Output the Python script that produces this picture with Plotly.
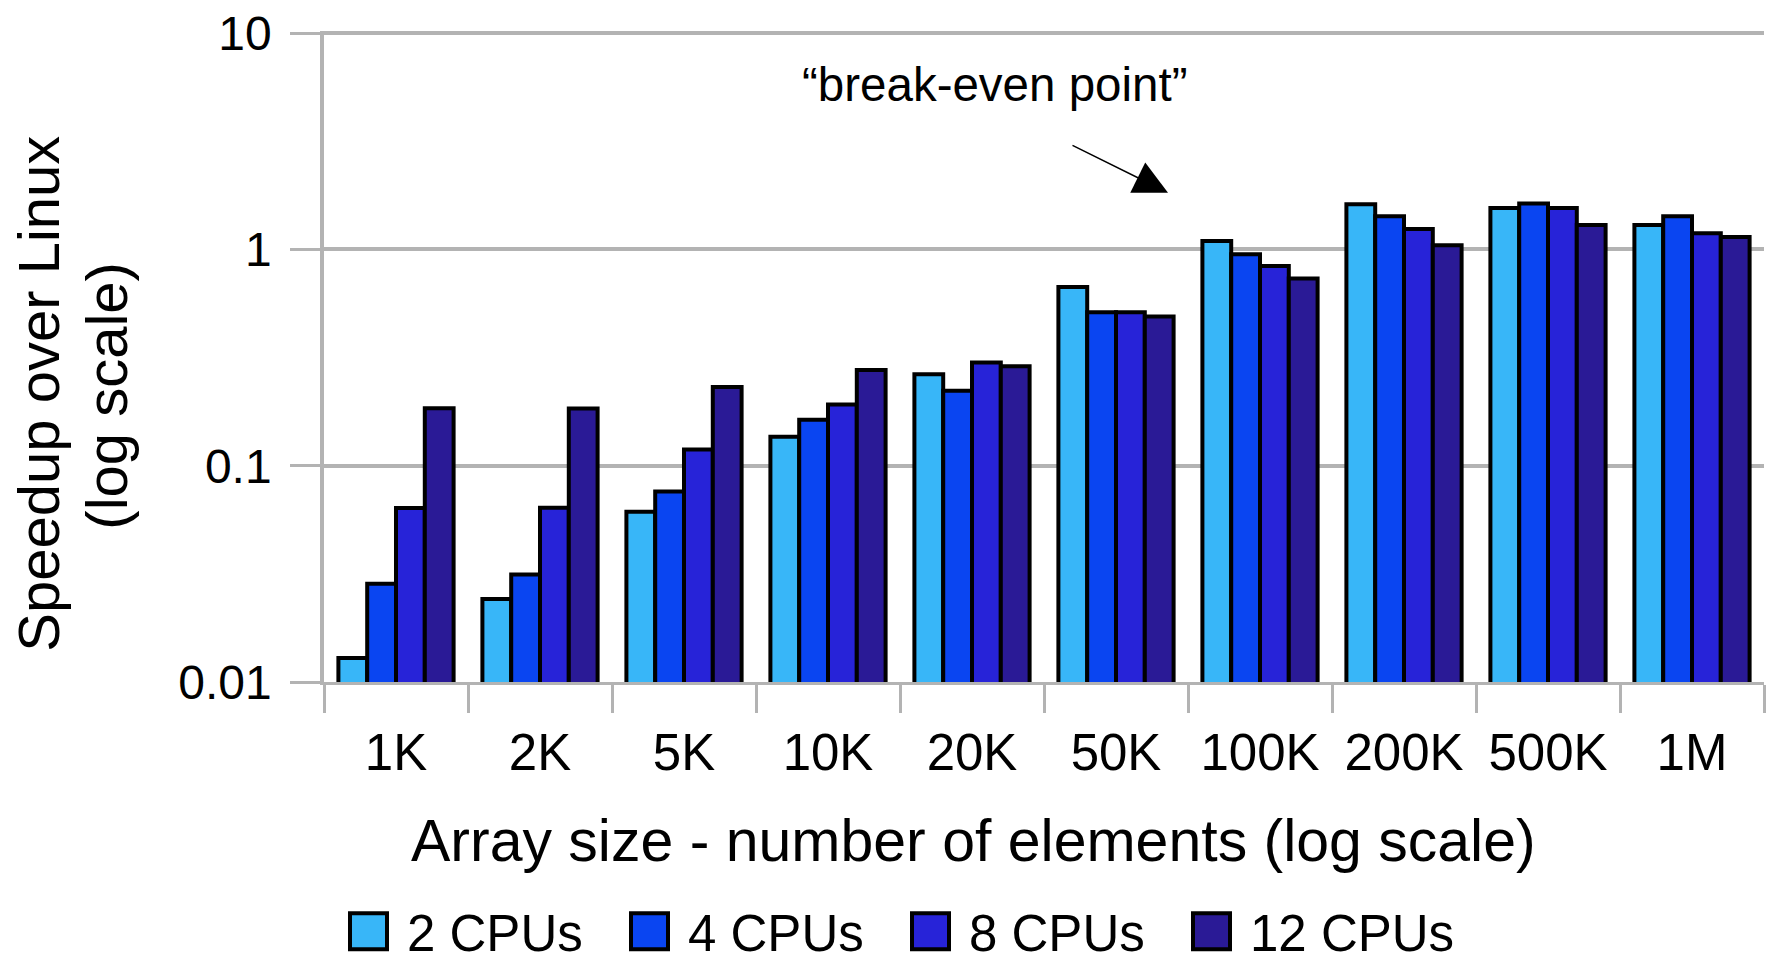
import plotly.graph_objects as go

# ---- data ----
categories = ["1K", "2K", "5K", "10K", "20K", "50K", "100K", "200K", "500K", "1M"]
series_names = ["2 CPUs", "4 CPUs", "8 CPUs", "12 CPUs"]
cpu2 = [0.0129, 0.0242, 0.0612, 0.136, 0.265, 0.670, 1.094, 1.616, 1.556, 1.298]
cpu4 = [0.0285, 0.0314, 0.076, 0.163, 0.222, 0.513, 0.951, 1.425, 1.630, 1.425]
cpu8 = [0.0638, 0.0640, 0.119, 0.192, 0.300, 0.513, 0.838, 1.242, 1.556, 1.187]
cpu12 = [0.1845, 0.1840, 0.231, 0.277, 0.288, 0.490, 0.733, 1.047, 1.298, 1.143]
y_tickvals = [0.01, 0.1, 1, 10]
y_ticktext = ["0.01", "0.1", "1", "10"]
colors = ["#38B6F8", "#0A45F1", "#2723D8", "#2A1A96"]

FONT = "Liberation Sans, Arial, Helvetica, sans-serif"
GRID = "#B3B3B3"

fig = go.Figure()
for name, vals, col in zip(series_names, [cpu2, cpu4, cpu8, cpu12], colors):
    fig.add_trace(go.Bar(
        x=categories, y=vals, name=name,
        marker=dict(color=col, line=dict(color="black", width=4)),
    ))

W, H = 1767, 963
Y_LO, Y_HI = -2, 1.01          # log10 range (tiny headroom so the top gridline is drawn)
L, R = 324, 3
B = H - 682.4                   # 0.01 sits at y = 682.4
T = 33.5 - (Y_HI - 1) * (682.4 - 33.5) / 3
pw = W - L - R
ph = H - T - B

def px(x):
    return (x - L) / pw

def py(y):
    return (H - B - y) / ph

fig.update_layout(
    width=W, height=H,
    margin=dict(l=L, r=R, t=T, b=B, pad=0, autoexpand=False),
    paper_bgcolor="white", plot_bgcolor="white",
    barmode="group", bargap=0.2, bargroupgap=0,
    font=dict(family=FONT, color="black"),
    showlegend=True,
    legend=dict(
        orientation="h", x=px(330), xanchor="left", y=py(932), yanchor="middle",
        font=dict(size=51, family=FONT, color="black"),
        itemwidth=67, entrywidth=199, entrywidthmode="pixels",
        bgcolor="rgba(0,0,0,0)", borderwidth=0, tracegroupgap=0,
        itemclick=False, itemdoubleclick=False,
    ),
    xaxis=dict(
        type="category", categoryorder="array", categoryarray=categories,
        tickson="boundaries", ticks="outside", ticklen=28, tickwidth=3, tickcolor=GRID,
        showgrid=False, showline=True, linecolor=GRID, linewidth=3,
        tickfont=dict(size=51, family=FONT, color="black"),
        ticklabelstandoff=24, range=[-0.5, 9.5], fixedrange=True,
    ),
    yaxis=dict(
        type="log", range=[Y_LO, Y_HI], tickvals=y_tickvals, ticktext=y_ticktext,
        ticks="outside", ticklen=30, tickwidth=3, tickcolor=GRID,
        showgrid=True, gridcolor=GRID, gridwidth=3.5,
        showline=True, linecolor=GRID, linewidth=3.5, zeroline=False,
        tickfont=dict(size=48, family=FONT, color="black"),
        ticklabelstandoff=9, ticklabeloverflow="allow", fixedrange=True,
    ),
)

annotations = [
    # x-axis title
    dict(text="Array size - number of elements (log scale)", xref="paper", yref="paper",
         x=px(973), y=py(841), xanchor="center", yanchor="middle", showarrow=False,
         font=dict(size=59, family=FONT, color="black")),
    # y-axis title (two lines)
    dict(text="Speedup over Linux", xref="paper", yref="paper",
         x=px(39), y=py(394), xanchor="center", yanchor="middle", textangle=-90,
         showarrow=False, font=dict(size=58, family=FONT, color="black")),
    dict(text="(log scale)", xref="paper", yref="paper",
         x=px(107), y=py(396), xanchor="center", yanchor="middle", textangle=-90,
         showarrow=False, font=dict(size=58, family=FONT, color="black")),
    # break-even note
    dict(text="\u201cbreak-even point\u201d", xref="paper", yref="paper",
         x=px(994), y=py(85), xanchor="center", yanchor="middle", showarrow=False,
         font=dict(size=47.5, family=FONT, color="black")),
    dict(text="", xref="paper", yref="paper", x=px(1168), y=py(193),
         axref="pixel", ayref="pixel", ax=-97, ay=-48,
         showarrow=True, arrowhead=2, arrowsize=4.5, arrowwidth=1.5, arrowcolor="black"),
]
fig.update_layout(annotations=annotations)

post = """
document.body.style.margin = '0';
var gd = document.getElementById('{plot_id}');
function bigSwatches(){
  gd.querySelectorAll('.legend .legendpoints path').forEach(function(p){
    p.setAttribute('d','M18.5,18H-18.5V-18H18.5Z');
  });
  gd.querySelectorAll('.legend [clip-path]').forEach(function(e){
    e.removeAttribute('clip-path');
  });
}
bigSwatches();
gd.on('plotly_afterplot', bigSwatches);
"""

fig.write_html("out.html", post_script=post, config={"displayModeBar": False})
